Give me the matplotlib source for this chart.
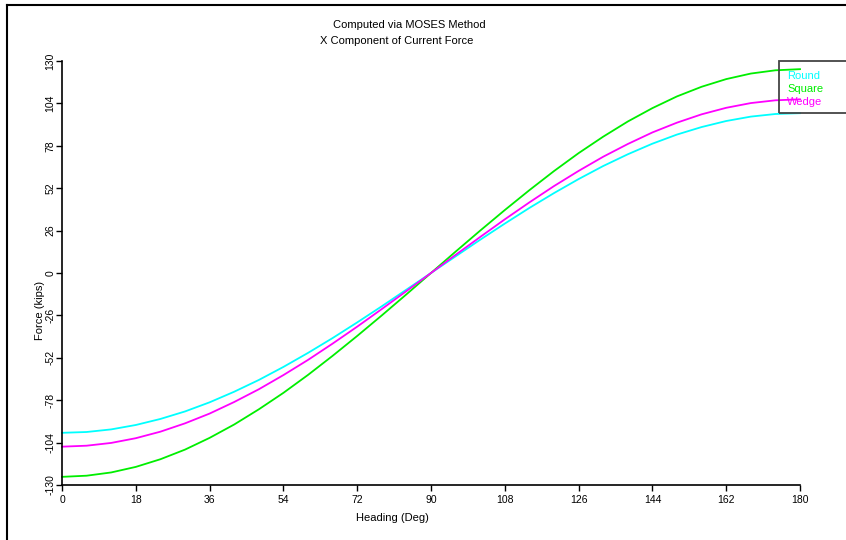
import matplotlib.pyplot as plt
from matplotlib.lines import Line2D
from matplotlib.patches import Rectangle

plt.rcParams["font.family"] = ["Liberation Sans", "DejaVu Sans"]
plt.rcParams["axes.unicode_minus"] = False

# Current force, X component, sampled every 6 degrees of heading
heading = [0, 6, 12, 18, 24, 30, 36, 42, 48, 54, 60, 66, 72, 78, 84, 90,
           96, 102, 108, 114, 120, 126, 132, 138, 144, 150, 156, 162, 168, 174, 180]
round_force = [-98.0, -97.5, -95.9, -93.2, -89.5, -84.9, -79.3, -72.8, -65.6, -57.6, -49.0,
               -39.9, -30.3, -20.4, -10.2, 0.0,
               10.2, 20.4, 30.3, 39.9, 49.0, 57.6, 65.6, 72.8, 79.3, 84.9, 89.5, 93.2, 95.9, 97.5, 98.0]
square_force = [-125.0, -124.3, -122.3, -118.9, -114.2, -108.3, -101.1, -92.9, -83.6, -73.5, -62.5,
                -50.8, -38.6, -26.0, -13.1, 0.0,
                13.1, 26.0, 38.6, 50.8, 62.5, 73.5, 83.6, 92.9, 101.1, 108.3, 114.2, 118.9, 122.3, 124.3, 125.0]
wedge_force = [-106.5, -105.9, -104.2, -101.3, -97.3, -92.2, -86.2, -79.1, -71.3, -62.6, -53.3,
               -43.3, -32.9, -22.1, -11.1, 0.0,
               11.1, 22.1, 32.9, 43.3, 53.3, 62.6, 71.3, 79.1, 86.2, 92.2, 97.3, 101.3, 104.2, 105.9, 106.5]

x_ticks = [0, 18, 36, 54, 72, 90, 108, 126, 144, 162, 180]
y_ticks = [-130, -104, -78, -52, -26, 0, 26, 52, 78, 104, 130]

series = [("Round", round_force, "#00ffff"),
          ("Square", square_force, "#00ee00"),
          ("Wedge", wedge_force, "#ff00ff")]

W, H = 846, 540
fig = plt.figure(figsize=(W / 100, H / 100), dpi=100)
ax = fig.add_axes([62 / W, 1 - 485 / H, (800 - 62) / W, (485 - 61) / H])

for name, vals, col in series:
    ax.plot(heading, vals, color=col, lw=1.3, clip_on=False)

ax.set_xlim(0, 180)
ax.set_ylim(-130, 130)
ax.set_xticks(x_ticks)
ax.set_yticks(y_ticks)
ax.tick_params(axis="both", direction="out", length=4, width=1, labelsize=7.5)
ax.tick_params(axis="x", pad=3)
ax.tick_params(axis="y", pad=4.5, labelrotation=90)
for lab in ax.get_yticklabels():
    lab.set_va("center")
    lab.set_ha("center")
for s in ["top", "right"]:
    ax.spines[s].set_visible(False)
for s in ["left", "bottom"]:
    ax.spines[s].set_linewidth(1.2)

# titles and axis captions
fig.text(333 / W, 1 - 25 / H, "Computed via MOSES Method", fontsize=8, va="center", ha="left")
fig.text(320 / W, 1 - 41 / H, "X Component of Current Force", fontsize=8, va="center", ha="left")
fig.text(392 / W, 1 - 518 / H, "Heading (Deg)", fontsize=8, va="center", ha="center")
fig.text(40 / W, 1 - 310 / H, "Force (kips)", fontsize=8, va="center", ha="center", rotation=90)

# legend box running off the right edge
fig.patches.append(Rectangle((779 / W, 1 - 113 / H), 80 / W, 52 / H, fill=False,
                             edgecolor="#444444", lw=1.3, transform=fig.transFigure))
for i, (name, vals, col) in enumerate(series):
    fig.text(787 / W, 1 - (76 + 13 * i) / H, name, color=col, fontsize=8, va="center", ha="left")

# page frame (left and top edges)
fig.add_artist(Line2D([7 / W, 7 / W], [0, 1 - 5 / H], color="black", lw=1.5))
fig.add_artist(Line2D([7 / W, 1], [1 - 5 / H, 1 - 5 / H], color="black", lw=1.5))

fig.savefig("out.png", dpi=100)
